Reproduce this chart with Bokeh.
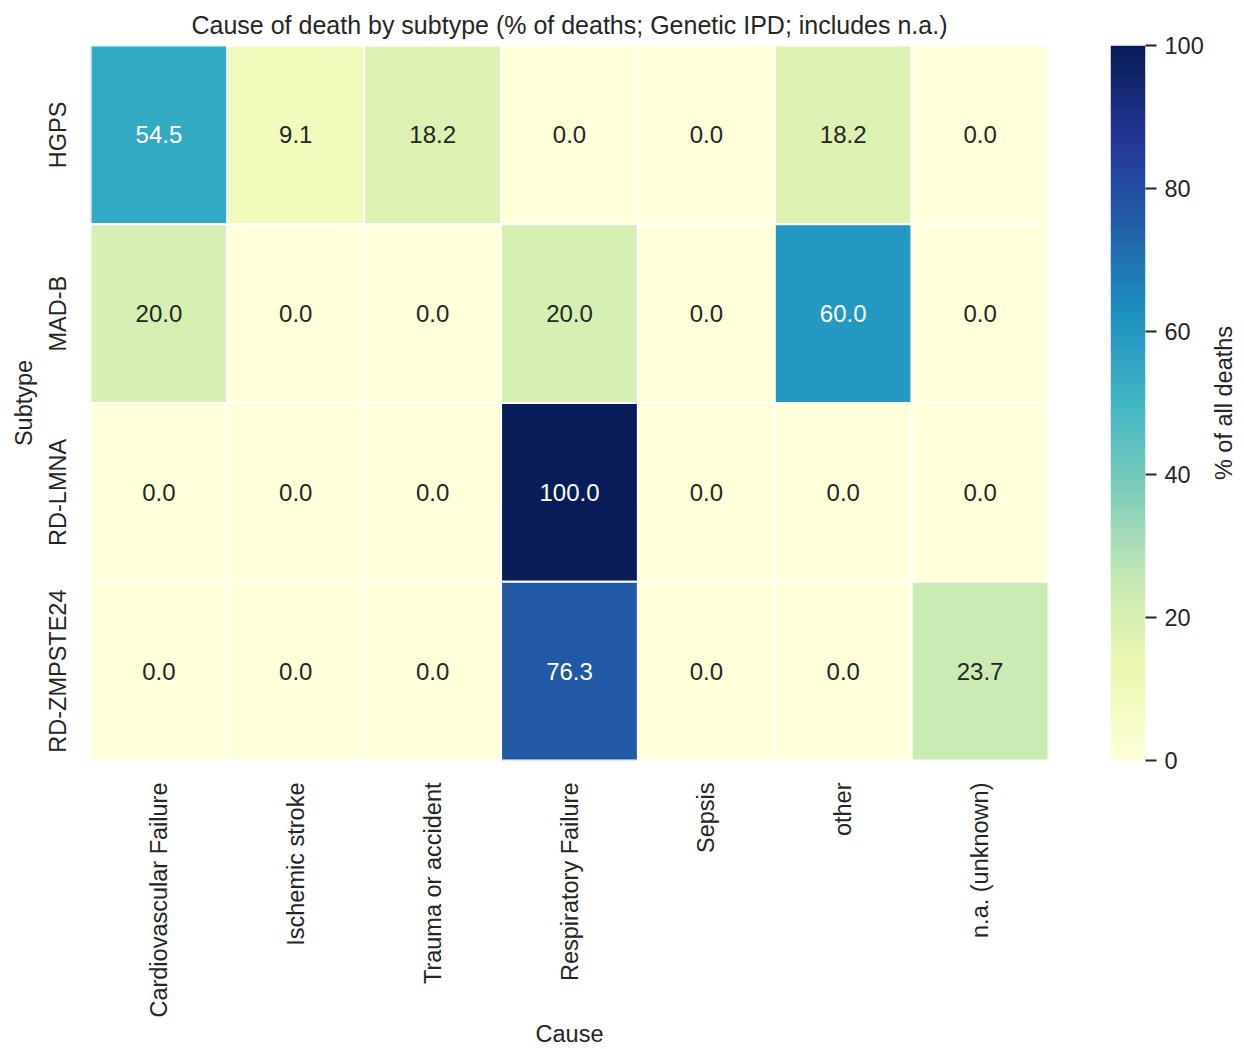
import math
import numpy as np
from bokeh.plotting import figure
from bokeh.layouts import row
from bokeh.models import (ColumnDataSource, LinearColorMapper, FixedTicker,
                          LinearAxis, Range1d)
from bokeh.transform import transform
from bokeh.palettes import YlGnBu9
from bokeh.core.properties import value
from bokeh.embed import file_html
from bokeh.resources import INLINE

# --- data -------------------------------------------------------------------
subtypes = ["HGPS", "MAD-B", "RD-LMNA", "RD-ZMPSTE24"]
causes = ["Cardiovascular Failure", "Ischemic stroke", "Trauma or accident",
          "Respiratory Failure", "Sepsis", "other", "n.a. (unknown)"]
hgps = [54.5, 9.1, 18.2, 0.0, 0.0, 18.2, 0.0]
mad_b = [20.0, 0.0, 0.0, 20.0, 0.0, 60.0, 0.0]
rd_lmna = [0.0, 0.0, 0.0, 100.0, 0.0, 0.0, 0.0]
rd_zmpste24 = [0.0, 0.0, 0.0, 76.3, 0.0, 0.0, 23.7]
rows = [hgps, mad_b, rd_lmna, rd_zmpste24]
cbar_ticks = [0, 20, 40, 60, 80, 100]

FONT = "Liberation Sans"
TEXT = "#262626"
TICK_FS = "23.5px"

# --- continuous YlGnBu palette (linear blend of the 9 anchor colours) --------
anchors = list(reversed(YlGnBu9))
rgb = np.array([[int(c[i:i + 2], 16) for i in (1, 3, 5)] for c in anchors], float)
pos = np.linspace(0, 1, len(anchors))
t = np.linspace(0, 1, 256)
interp = np.stack([np.interp(t, pos, rgb[:, k]) for k in range(3)], axis=1)
palette = ["#%02x%02x%02x" % tuple(int(round(v)) for v in c) for c in interp]
mapper = LinearColorMapper(palette=palette, low=0, high=100)


def cell_colour(v):
    idx = min(255, int(v / 100 * 256))
    return interp[idx] / 255.0


def text_colour(v):
    r, g, b = cell_colour(v)
    lin = [c / 12.92 if c <= 0.03928 else ((c + 0.055) / 1.055) ** 2.4 for c in (r, g, b)]
    lum = 0.2126 * lin[0] + 0.7152 * lin[1] + 0.0722 * lin[2]
    return TEXT if lum > 0.408 else "#ffffff"


xs, ys, vals, labels, tcols = [], [], [], [], []
for s, r in zip(subtypes, rows):
    for c, v in zip(causes, r):
        xs.append(c)
        ys.append(s)
        vals.append(v)
        labels.append(f"{v:.1f}")
        tcols.append(text_colour(v))
src = ColumnDataSource(dict(cause=xs, subtype=ys, val=vals, label=labels, tcol=tcols))

# --- heatmap ------------------------------------------------------------------
p = figure(width=1110, height=1049, x_range=causes, y_range=list(reversed(subtypes)),
           output_backend="svg", toolbar_location=None,
           title="Cause of death by subtype (% of deaths; Genetic IPD; includes n.a.)",
           min_border_left=90, min_border_right=62, min_border_top=45,
           min_border_bottom=289)
p.rect(x="cause", y="subtype", width=1, height=1, source=src,
       fill_color=transform("val", mapper), line_color="white", line_width=2)
p.text(x="cause", y="subtype", text="label", source=src, text_color="tcol",
       text_align="center", text_baseline="middle", text_font=value(FONT),
       text_font_size="24px")

p.title.text_font = FONT
p.title.text_font_size = "25px"
p.title.text_font_style = "normal"
p.title.text_color = TEXT
p.title.align = "center"
p.title.standoff = 14

p.outline_line_color = None
p.grid.grid_line_color = None
p.background_fill_color = "white"
for ax in (p.xaxis[0], p.yaxis[0]):
    ax.axis_line_color = None
    ax.major_tick_line_color = None
    ax.major_tick_out = 0
    ax.major_tick_in = 0
    ax.minor_tick_line_color = None
    ax.major_label_text_font = FONT
    ax.major_label_text_font_size = TICK_FS
    ax.major_label_text_color = TEXT
    ax.axis_label_text_font = FONT
    ax.axis_label_text_font_size = TICK_FS
    ax.axis_label_text_font_style = "normal"
    ax.axis_label_text_color = TEXT

p.xaxis.axis_label = "Cause"
p.xaxis.major_label_orientation = math.pi / 2
p.xaxis.major_label_standoff = 22
p.xaxis.axis_label_standoff = 0
p.yaxis.axis_label = "Subtype"
p.yaxis.major_label_orientation = "vertical"
p.yaxis.major_label_standoff = 20
p.yaxis.axis_label_standoff = 5

# --- colour bar as its own narrow figure --------------------------------------
cb = figure(width=96, height=1049, x_range=Range1d(0, 1), y_range=Range1d(0, 100),
            output_backend="svg", toolbar_location=None,
            min_border_left=0, min_border_right=60, min_border_top=45,
            min_border_bottom=289, x_axis_location=None, y_axis_location=None)
grad = np.linspace(0, 100, 512).reshape(512, 1)
cb.image(image=[grad], x=0, y=0, dw=1, dh=100, color_mapper=mapper)
cb.outline_line_color = None
cb.grid.grid_line_color = None

cax = LinearAxis(ticker=FixedTicker(ticks=cbar_ticks))
cax.axis_line_color = None
cax.major_tick_line_color = TEXT
cax.major_tick_line_width = 2
cax.major_tick_out = 11
cax.major_tick_in = 0
cax.minor_tick_line_color = None
cax.major_label_standoff = 8
cax.major_label_text_font = FONT
cax.major_label_text_font_size = TICK_FS
cax.major_label_text_color = TEXT
cb.add_layout(cax, "right")

# --- colour-bar caption: an empty strip whose left axis carries the label ----
cap = figure(width=38, height=1049, x_range=Range1d(0, 1), y_range=Range1d(0, 100),
             output_backend="svg", toolbar_location=None,
             min_border_left=30, min_border_right=0, min_border_top=45,
             min_border_bottom=289, x_axis_location=None)
cap.outline_line_color = None
cap.grid.grid_line_color = None
lab = cap.yaxis[0]
lab.ticker = FixedTicker(ticks=[])
lab.axis_line_color = None
lab.major_tick_line_color = None
lab.minor_tick_line_color = None
lab.major_label_text_font_size = "0px"
lab.major_label_standoff = 0
lab.major_tick_out = 0
lab.axis_label = "% of all deaths"
lab.axis_label_standoff = 0
lab.axis_label_text_font = FONT
lab.axis_label_text_font_size = TICK_FS
lab.axis_label_text_font_style = "normal"
lab.axis_label_text_color = TEXT

layout = row(p, cb, cap, spacing=0)
open("out.html", "w").write(file_html(layout, INLINE))
